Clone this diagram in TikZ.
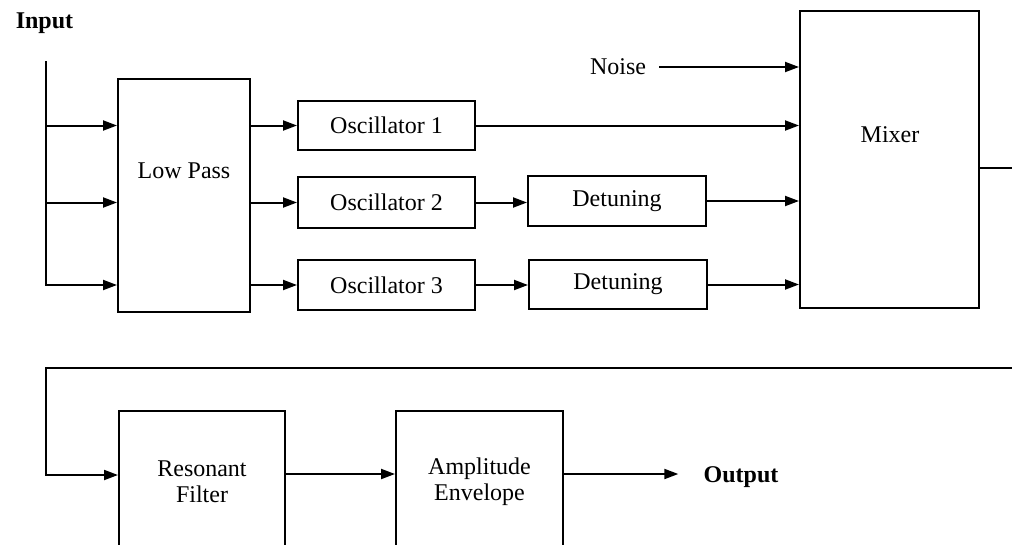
\documentclass[tikz,border=0pt]{standalone}
\usepackage{fontspec}
\setmainfont{Liberation Serif}
\usepackage{tikz}
\usetikzlibrary{positioning, arrows.meta, calc}
\tikzset{>={Triangle[length=14pt,width=10pt]}}
\tikzset{block/.style={draw, align=center}}

\begin{document}
\begin{tikzpicture}[x=1pt, y=-1pt, line width=2pt]
		\useasboundingbox (0,0) rectangle (1012,544);
		\clip (0,0) rectangle (1012,544);
		\begin{scope}[every node/.append style={font=\fontsize{24}{26}\selectfont}]
			\node[font=\fontsize{24}{26}\selectfont\bfseries] (input) at (44.5,23) {Input};
			\node[block, minimum width=132pt, minimum height=233pt] (lowpass) at (184,195.5) {};
			\node (lowpasstext) at (184,171) {Low Pass};
			\node[block, minimum width=177pt, minimum height=49pt] (osc1) at (386.5,125.5) {Oscillator 1};
			\node[block, minimum width=177pt, minimum height=51pt] (osc2) at (386.5,202.5) {Oscillator 2};
			\node[block, minimum width=177pt, minimum height=50pt] (osc3) at (386.5,285) {Oscillator 3};
			\node[block, minimum width=178pt, minimum height=50pt] (detune1) at (617,201) {Detuning};
			\node[block, minimum width=178pt, minimum height=49pt] (detune2) at (618,284.5) {Detuning};
			\node (noise) at (618,67) {Noise};
			\node[block, minimum width=179pt, minimum height=297pt] (mixer) at (889.5,159.5) {};
			\node (mixertext) at (890,135) {Mixer};
			\node[block, minimum width=166pt, minimum height=142pt] (resonant) at (202,482) {Resonant\\Filter};
			\node[block, minimum width=167pt, minimum height=142pt] (envelope) at (479.5,482) {Amplitude\\Envelope};
			\node[font=\fontsize{24}{26}\selectfont\bfseries] (output) at (741,477) {Output};
		\end{scope}

		\coordinate (intop) at (46,61);
		\coordinate (mixout) at (1012,168);
		\coordinate (loopright) at (1012,368);
		\coordinate (loopleft) at (46,368);
		\coordinate (resout) at ([yshift=8pt]resonant.east);
		\coordinate (envout) at ([yshift=8pt]envelope.east);

		\draw [->] (intop) |- (lowpass.west |- osc3.west);
		\draw [->] (intop |- osc1.west) -- (lowpass.west |- osc1.west);
		\draw [->] (intop |- osc2.west) -- (lowpass.west |- osc2.west);
		\draw [->] (lowpass.east |- osc1.west) -- (osc1.west);
		\draw [->] (lowpass.east |- osc2.west) -- (osc2.west);
		\draw [->] (lowpass.east |- osc3.west) -- (osc3.west);
		\draw [->] (osc1.east) -- (mixer.west |- osc1.east);
		\draw [->] (osc2.east) -- (detune1.west |- osc2.east);
		\draw [->] (osc3.east) -- (detune2.west |- osc3.east);
		\draw [->] (detune1.east) -- (mixer.west |- detune1.east);
		\draw [->] (detune2.east) -- (mixer.west |- detune2.east);
		\draw [->] ([xshift=9pt]noise.east) -- (mixer.west |- noise.east);
		\draw (mixer.east |- mixout) -- (mixout);
		\draw [->] (loopright) -- (loopleft) |- ([yshift=7pt]resonant.west);
		\draw [->] (resout) -- (envelope.west |- resout);
		\draw [->] (envout) -- ([xshift=-21pt]output.west |- envout);
	\end{tikzpicture}
\end{document}
